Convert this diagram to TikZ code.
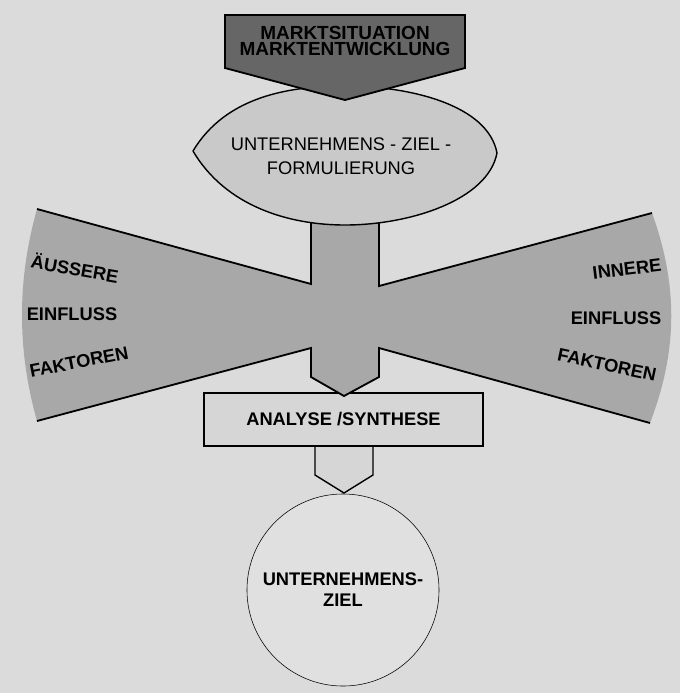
\documentclass[tikz,border=0pt]{standalone}
\usepackage{fontspec}
\setmainfont{Liberation Sans}
\definecolor{paper}{gray}{0.86}
\definecolor{darkarrow}{gray}{0.40}
\definecolor{wing}{gray}{0.66}
\definecolor{lens}{gray}{0.79}
\definecolor{boxgray}{gray}{0.84}
\definecolor{zielgray}{gray}{0.88}

\begin{document}
\begin{tikzpicture}[x=0.025cm, y=-0.025cm,
    label/.style={font=\fontsize{13}{15}\selectfont\bfseries, align=center, inner sep=0pt},
    outline/.style={draw=black, line width=1.3pt, line join=miter}]
          \useasboundingbox (0,0) rectangle (680,693);
          \fill[paper] (0,0) rectangle (680,693);
          \node[circle, draw, thin, fill=zielgray, minimum size=4.8cm] (ziel) at (343,590) {};
          \node[label] (zieltext) at (343,590) {UNTERNEHMENS-\\ZIEL};
          \draw[outline, line width=1pt, fill=boxgray] (315,440) -- (315,475) -- (344,493) -- (373,475) -- (373,440);
          \node[draw, line width=1.2pt, fill=boxgray, minimum width=6.975cm, minimum height=1.325cm] (synth) at (343.5,419.5) {};
          \node[label] (synthtext) at (343.5,419) {ANALYSE /SYNTHESE};
          \fill[wing] (311,210) -- (311,284) -- (37,209) .. controls (17,280) and (17,350) .. (37,421) -- (311,348) -- (311,377) -- (344,396) -- (379,377) -- (379,348) -- (650,423) .. controls (678,350) and (678,285) .. (652,213) -- (379,286) -- (379,210) -- cycle;
          \draw[outline] (311,210) -- (311,284) -- (37,209);
          \draw[outline] (37,421) -- (311,348) -- (311,377) -- (344,396) -- (379,377) -- (379,348) -- (650,423);
          \draw[outline] (652,213) -- (379,286) -- (379,210);
          \draw[draw=black, line width=1pt, fill=lens] (193,151) .. controls (226,96) and (290,86) .. (345,86) .. controls (410,86) and (488,105) .. (497,153) .. controls (488,200) and (410,225) .. (345,225) .. controls (290,225) and (226,207) .. (193,151);
          \draw[outline, fill=darkarrow] (225,15) -- (465,15) -- (465,68) -- (345,100) -- (225,68) -- cycle;
          \node[label, font=\fontsize{13.5}{12}\selectfont\bfseries] (markt) at (345,41) {MARKTSITUATION\\MARKTENTWICKLUNG};
          \node[label, font=\fontsize{13}{17}\selectfont] (formul) at (341,156) {UNTERNEHMENS - ZIEL -\\FORMULIERUNG};
          \node[label, rotate=-10] (aussen1) at (75,268) {ÄUSSERE};
          \node[label] (aussen2) at (72,314) {EINFLUSS};
          \node[label, rotate=11] (aussen3) at (79,362) {FAKTOREN};
          \node[label, rotate=7] (innen1) at (627,269) {INNERE};
          \node[label] (innen2) at (616,318) {EINFLUSS};
          \node[label, rotate=-12] (innen3) at (607,365) {FAKTOREN};
        \end{tikzpicture}
\end{document}
